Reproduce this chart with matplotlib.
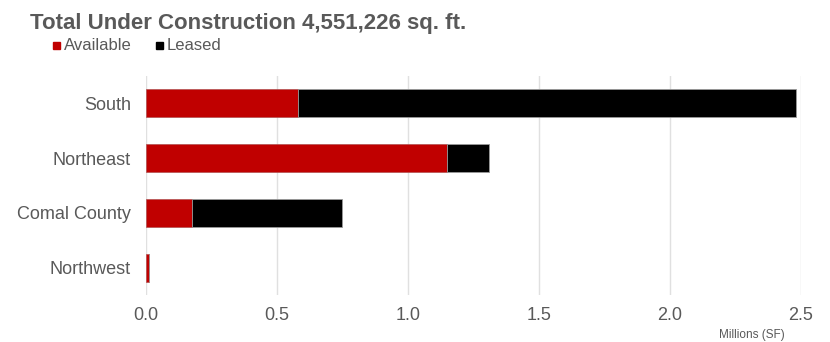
import matplotlib.pyplot as plt
from matplotlib.patches import Rectangle

plt.rcParams['font.family'] = ['Liberation Sans', 'DejaVu Sans']

regions = ['South', 'Northeast', 'Comal County', 'Northwest']
available = [0.580, 1.149, 0.177, 0.013]
leased = [1.902, 0.161, 0.570, 0.0]

red = '#C00000'
grey = '#595959'

fig = plt.figure(figsize=(8.3, 3.42), dpi=100)
ax = fig.add_axes([146 / 830, 1 - 295 / 342, 655 / 830, 219 / 342])

ypos = list(range(len(regions)))
ax.barh(ypos, available, height=0.51, color=red, edgecolor='#b05050', linewidth=0.5, zorder=3)
ax.barh(ypos, leased, left=available, height=0.51, color='black', edgecolor='#9a9a9a', linewidth=0.6, zorder=3)

ax.set_ylim(3.5, -0.5)
ax.set_xlim(0, 2.5)
ax.set_xticks([0, 0.5, 1.0, 1.5, 2.0, 2.5])
ax.set_xticklabels(['0.0', '0.5', '1.0', '1.5', '2.0', '2.5'])
ax.set_yticks(ypos)
ax.set_yticklabels(regions)
ax.grid(axis='x', color='#e0e0e0', linewidth=1.0, zorder=0)
for s in ax.spines.values():
    s.set_visible(False)
ax.tick_params(length=0, labelsize=13, labelcolor=grey)
ax.tick_params(axis='y', pad=11)
ax.tick_params(axis='x', pad=9)

fig.text(30 / 830, 1 - 23 / 342, 'Total Under Construction 4,551,226 sq. ft.',
         fontsize=16, fontweight='bold', color=grey, va='center', ha='left')

# legend
fig.patches.append(Rectangle((53 / 830, 1 - 49 / 342), 7 / 830, 7 / 342,
                             transform=fig.transFigure, color=red))
fig.text(64 / 830, 1 - 45 / 342, 'Available', fontsize=12, color=grey, va='center')
fig.patches.append(Rectangle((156 / 830, 1 - 49 / 342), 7 / 830, 7 / 342,
                             transform=fig.transFigure, color='black'))
fig.text(167 / 830, 1 - 45 / 342, 'Leased', fontsize=12, color=grey, va='center')

fig.text(785 / 830, 1 - 335 / 342, 'Millions (SF)', fontsize=8.5, color=grey,
         ha='right', va='center')

fig.savefig('out.png', dpi=100)
